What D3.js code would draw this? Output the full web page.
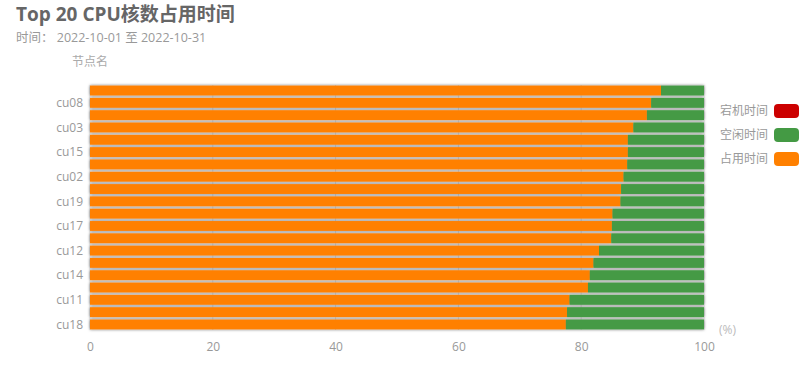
<!DOCTYPE html>
<html>
<head>
<meta charset="utf-8">
<script src="https://cdn.jsdelivr.net/npm/d3@7"></script>
<style>
  body { margin: 0; background: #fff; }
  svg { font-family: "Open Sans", "Noto Sans CJK SC", sans-serif; }
</style>
</head>
<body>
<div id="chart"></div>
<script>
// nodes, top to bottom
const nodes = ['cu01', 'cu08', 'cu04', 'cu03', 'cu05', 'cu15', 'cu06', 'cu02', 'cu07', 'cu19',
               'cu09', 'cu17', 'cu10', 'cu12', 'cu13', 'cu14', 'cu16', 'cu11', 'cu20', 'cu18']
const busy = [93.0, 91.4, 90.7, 88.5, 87.6, 87.6, 87.5, 86.9, 86.5, 86.4,
              85.1, 85.0, 84.9, 82.9, 82.0, 81.4, 81.1, 78.1, 77.7, 77.5]
const idle = busy.map(v => +(100 - v).toFixed(1))
const down = nodes.map(() => 0)
const xTicks = [0, 20, 40, 60, 80, 100]

const seriesNames = ['占用时间', '空闲时间', '宕机时间']
const seriesColors = ['#ff8000', '#449a44', '#cc0000']
const legendOrder = ['宕机时间', '空闲时间', '占用时间']

const width = 804, height = 390
const margin = { top: 85, right: 100, bottom: 60, left: 90 }

const svg = d3.select('#chart').append('svg')
    .attr('width', width)
    .attr('height', height)

const defs = svg.append('defs')
defs.append('filter')
    .attr('id', 'shadow')
    .attr('x', '-5%').attr('y', '-50%')
    .attr('width', '110%').attr('height', '200%')
  .append('feDropShadow')
    .attr('dx', 0).attr('dy', 0)
    .attr('stdDeviation', 1.6)
    .attr('flood-color', '#000')
    .attr('flood-opacity', 0.6)

const x = d3.scaleLinear()
    .domain([0, 100])
    .range([margin.left, width - margin.right])

const y = d3.scaleBand()
    .domain(nodes)
    .range([margin.top, height - margin.bottom])
    .paddingInner(0.2)
    .paddingOuter(0.05)

// title
svg.append('text')
    .attr('x', 16).attr('y', 21)
    .attr('font-size', 19).attr('font-weight', 'bold')
    .attr('fill', '#666')
    .text('Top 20 CPU核数占用时间')
svg.append('text')
    .attr('x', 16).attr('y', 42)
    .attr('font-size', 12.5).attr('fill', '#999')
    .text('时间： 2022-10-01 至 2022-10-31')

// grid
svg.append('g')
    .selectAll('line')
    .data(xTicks)
    .enter().append('line')
    .attr('x1', d => x(d)).attr('x2', d => x(d))
    .attr('y1', margin.top).attr('y2', height - margin.bottom)
    .attr('stroke', '#e6e6e6')

// stacked bars
const stacked = nodes.map((n, i) => ({ node: n, vals: [busy[i], idle[i], down[i]] }))
const rows = svg.append('g')
    .attr('filter', 'url(#shadow)')
    .selectAll('g')
    .data(stacked)
    .enter().append('g')

rows.each(function(d) {
    let acc = 0
    const g = d3.select(this)
    d.vals.forEach((v, k) => {
        if (v > 0) {
            g.append('rect')
                .attr('x', x(acc))
                .attr('y', y(d.node))
                .attr('width', x(acc + v) - x(acc))
                .attr('height', y.bandwidth())
                .attr('fill', seriesColors[k])
        }
        acc += v
    })
})

// y axis labels, every other one
svg.append('g')
    .selectAll('text')
    .data(nodes.filter((n, i) => i % 2 === 1))
    .enter().append('text')
    .attr('x', margin.left - 7)
    .attr('y', d => y(d) + y.bandwidth() / 2)
    .attr('dy', '0.35em')
    .attr('text-anchor', 'end')
    .attr('font-size', 12)
    .attr('fill', '#999')
    .text(d => d)

svg.append('text')
    .attr('x', margin.left).attr('y', 66)
    .attr('text-anchor', 'middle')
    .attr('font-size', 12).attr('fill', '#aaa')
    .text('节点名')

// x axis
const xAxis = svg.append('g')
    .attr('transform', 'translate(0,' + (height - margin.bottom) + ')')
    .call(d3.axisBottom(x).tickValues(xTicks).tickSize(0).tickPadding(12))
xAxis.select('.domain').remove()
xAxis.selectAll('text')
    .attr('font-size', 12)
    .attr('fill', '#999')
    .attr('font-family', '"Open Sans", "Noto Sans CJK SC", sans-serif')

svg.append('text')
    .attr('x', x(100) + 15).attr('y', height - margin.bottom)
    .attr('dy', '0.35em')
    .attr('font-size', 12).attr('fill', '#bbb')
    .text('(%)')

// legend
const legend = svg.append('g')
    .selectAll('g')
    .data(legendOrder)
    .enter().append('g')
    .attr('transform', (d, i) => 'translate(0,' + (111 + i * 24) + ')')
legend.append('text')
    .attr('x', 768).attr('dy', '0.35em')
    .attr('text-anchor', 'end')
    .attr('font-size', 12).attr('fill', '#999')
    .text(d => d)
legend.append('rect')
    .attr('x', 774).attr('y', -7)
    .attr('width', 25).attr('height', 14)
    .attr('rx', 4)
    .attr('fill', d => seriesColors[seriesNames.indexOf(d)])
</script>
</body>
</html>
